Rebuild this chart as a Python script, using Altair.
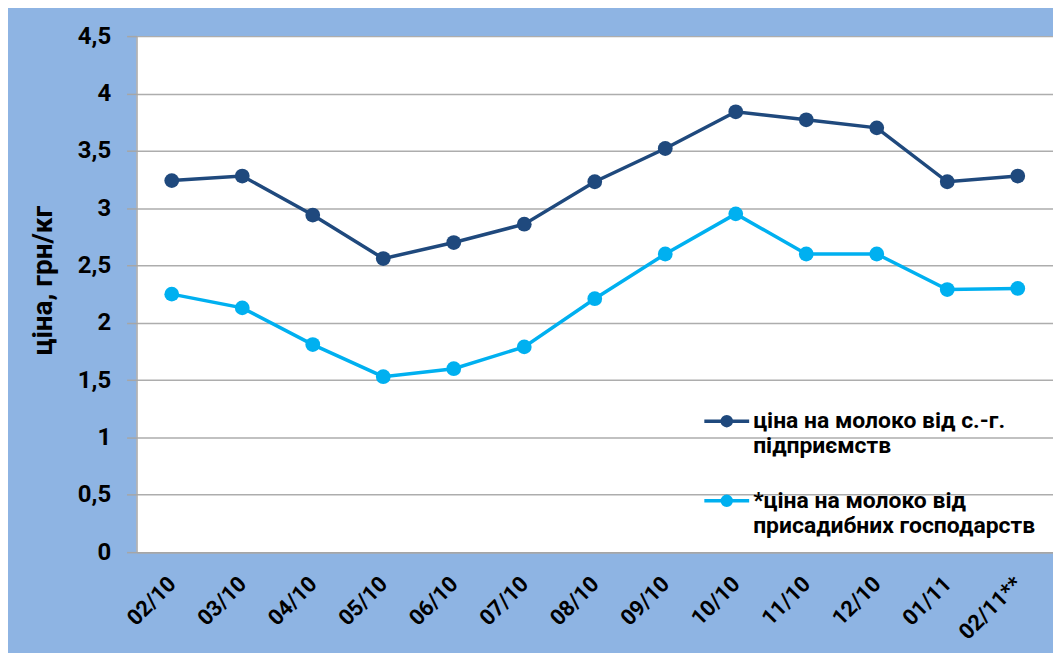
import altair as alt
import pandas as pd

months = ["02/10", "03/10", "04/10", "05/10", "06/10", "07/10", "08/10",
          "09/10", "10/10", "11/10", "12/10", "01/11", "02/11**"]
enterprises = [3.24, 3.28, 2.94, 2.56, 2.70, 2.86, 3.23, 3.52, 3.84, 3.77, 3.70, 3.23, 3.28]
households = [2.25, 2.13, 1.81, 1.53, 1.60, 1.79, 2.21, 2.60, 2.95, 2.60, 2.60, 2.29, 2.30]
series_names = ["ціна на молоко від с.-г. підприємств",
                "*ціна на молоко від присадибних господарств"]
legend_lines = [["ціна на молоко від с.-г.", "підприємств"],
                ["*ціна на молоко від", "присадибних господарств"]]
series_colors = ["#1F497D", "#00B0F0"]
y_ticks = [0, 0.5, 1, 1.5, 2, 2.5, 3, 3.5, 4, 4.5]

rows = []
for name, vals in zip(series_names, [enterprises, households]):
    for m, v in zip(months, vals):
        rows.append({"month": m, "value": v, "series": name})
df = pd.DataFrame(rows)

label_expr = "datum.label == '{0}' ? {1} : {2}".format(
    series_names[0],
    "['" + "','".join(legend_lines[0]) + "']",
    "['" + "','".join(legend_lines[1]) + "']",
)

FONT = "Roboto"

chart = alt.Chart(df).mark_line(
    strokeWidth=3.5,
    point=alt.OverlayMarkDef(filled=True, size=220, opacity=1),
).encode(
    x=alt.X("month:N", sort=months, scale=alt.Scale(paddingInner=0, paddingOuter=0),
            axis=alt.Axis(title=None, labelAngle=-45, labelAlign="right", labelBaseline="middle",
                          labelFont=FONT, labelFontSize=22, labelFontWeight="bold", labelColor="#000000",
                          labelPadding=28, ticks=False, domainColor="#A6A6A6", domainWidth=1.5,
                          grid=False)),
    y=alt.Y("value:Q", scale=alt.Scale(domain=[0, 4.5], nice=False),
            axis=alt.Axis(title="ціна, грн/кг", values=y_ticks,
                          labelExpr="replace(format(datum.value, '~g'), '.', ',')",
                          labelFont=FONT, labelFontSize=24, labelFontWeight="bold", labelColor="#000000",
                          labelPadding=16, tickSize=10, tickColor="#A6A6A6", tickWidth=1.5,
                          domainColor="#A6A6A6", domainWidth=1.5,
                          gridColor="#ADADAD", gridWidth=1.5,
                          titleFont=FONT, titleFontSize=28, titleFontWeight="bold", titleColor="#000000",
                          titleX=-93, titleY=245, titleAngle=-90, titleBaseline="middle",
                          titleAlign="center")),
    color=alt.Color("series:N", sort=series_names,
                    scale=alt.Scale(domain=series_names, range=series_colors),
                    legend=alt.Legend(title=None, orient="none", legendX=568, legendY=362,
                                      symbolType="M-1,0L1,0M0.2,0A0.2,0.2,0,1,1,-0.2,0A0.2,0.2,0,1,1,0.2,0Z",
                                      symbolSize=2025, symbolStrokeWidth=3.5,
                                      labelExpr=label_expr, labelLimit=400,
                                      labelFont=FONT, labelFontSize=23, labelFontWeight="bold",
                                      labelColor="#000000", labelBaseline="middle",
                                      labelOffset=2, rowPadding=18)),
).properties(
    width=920, height=518,
    padding={"left": 129, "top": 27, "right": 0, "bottom": 100},
    autosize=alt.AutoSizeParams(type="none"),
    background="#8EB4E3",
).configure_view(
    fill="#FFFFFF", stroke=None,
)

chart.save("out.html", embed_options={"renderer": "svg", "actions": False})
